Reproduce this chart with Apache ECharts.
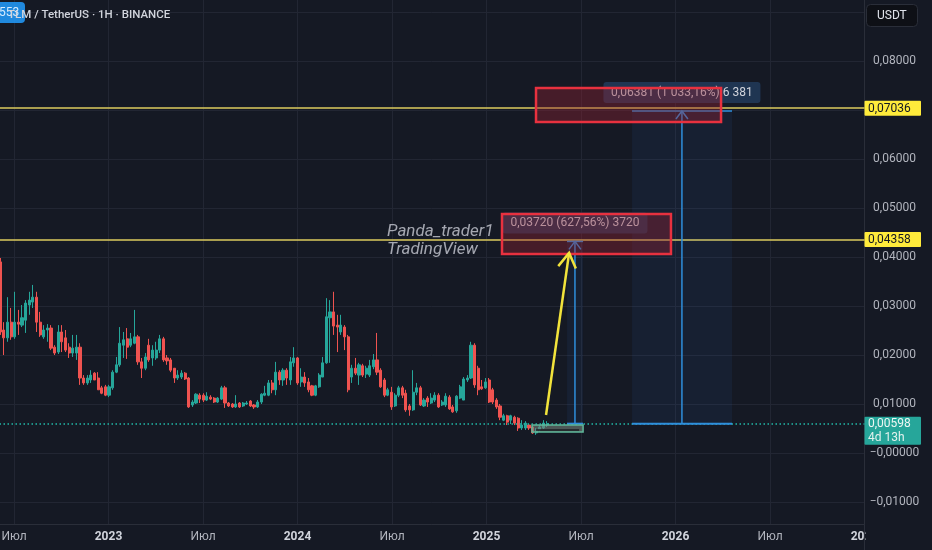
<!DOCTYPE html>
<html>
<head>
<meta charset="utf-8">
<script src="https://cdn.jsdelivr.net/npm/echarts@6/dist/echarts.min.js"></script>
<style>
html,body{margin:0;padding:0;background:#151924;}
#c{width:932px;height:550px;}
</style>
</head>
<body>
<div id="c"></div>
<script>
// ---------- DATA (weekly candles, TLM / USDT) ----------
const startDate = '2022-06-06';   // first weekly candle
const opens = [
.0390,.0251,.0235,.0267,.0237,.0267,.0261,.0271,.0302,.0308,
.0318,.0267,.0237,.0251,.0255,.0216,.0206,.0247,.0235,.0216,
.0204,.0204,.0216,.0153,.0143,.0149,.0163,.0153,.0133,.0135,
.0118,.0133,.0165,.0180,.0220,.0233,.0220,.0224,.0237,.0186,
.0173,.0220,.0194,.0194,.0210,.0233,.0194,.0190,.0173,.0153,
.0155,.0163,.0153,.0098,.0102,.0118,.0118,.0108,.0114,.0112,
.0104,.0110,.0133,.0102,.0100,.0094,.0102,.0096,.0100,.0106,
.0098,.0094,.0104,.0118,.0118,.0143,.0129,.0165,.0149,.0169,
.0149,.0184,.0194,.0145,.0155,.0145,.0137,.0118,.0135,.0155,
.0184,.0276,.0288,.0261,.0247,.0257,.0237,.0155,.0173,.0159,
.0178,.0161,.0159,.0176,.0190,.0169,.0149,.0118,.0124,.0096,
.0118,.0133,.0122,.0096,.0088,.0124,.0133,.0096,.0112,.0102,
.0108,.0118,.0098,.0098,.0114,.0094,.0086,.0112,.0108,.0149,
.0153,.0220,.0173,.0135,.0133,.0149,.0129,.0108,.0096,.0067,
.0076,.0067,.0073,.0071,.0051,.0051,.0057,.0053,.0041,.0047,
.0051,.0057];
const closes = [
.0247,.0235,.0267,.0237,.0267,.0263,.0276,.0306,.0312,.0318,
.0267,.0241,.0251,.0255,.0214,.0204,.0247,.0227,.0210,.0204,
.0214,.0216,.0153,.0143,.0153,.0159,.0149,.0129,.0122,.0118,
.0135,.0165,.0180,.0224,.0231,.0216,.0233,.0237,.0186,.0173,
.0196,.0190,.0210,.0210,.0233,.0190,.0188,.0169,.0153,.0159,
.0163,.0151,.0094,.0104,.0120,.0110,.0108,.0116,.0110,.0104,
.0112,.0133,.0102,.0096,.0094,.0100,.0094,.0102,.0102,.0096,
.0094,.0104,.0120,.0122,.0143,.0129,.0165,.0149,.0169,.0153,
.0186,.0194,.0143,.0155,.0143,.0129,.0118,.0137,.0159,.0184,
.0278,.0288,.0259,.0257,.0261,.0237,.0129,.0173,.0163,.0180,
.0159,.0173,.0178,.0190,.0165,.0135,.0118,.0129,.0094,.0118,
.0133,.0118,.0088,.0088,.0124,.0133,.0098,.0108,.0104,.0112,
.0118,.0094,.0104,.0116,.0090,.0084,.0116,.0135,.0151,.0153,
.0220,.0139,.0129,.0131,.0145,.0104,.0104,.0094,.0073,.0076,
.0063,.0076,.0061,.0051,.0057,.0061,.0051,.0041,.0047,.0053,
.0061,.00598];
const lows = [
.0241,.0200,.0227,.0231,.0233,.0241,.0257,.0245,.0282,.0296,
.0247,.0237,.0233,.0227,.0210,.0200,.0202,.0206,.0206,.0194,
.0196,.0190,.0139,.0139,.0139,.0143,.0149,.0129,.0120,.0116,
.0114,.0129,.0163,.0176,.0194,.0192,.0216,.0222,.0180,.0153,
.0169,.0186,.0178,.0190,.0204,.0186,.0180,.0165,.0143,.0149,
.0151,.0149,.0092,.0094,.0100,.0102,.0104,.0106,.0108,.0102,
.0102,.0108,.0092,.0094,.0092,.0092,.0092,.0094,.0098,.0094,
.0090,.0092,.0100,.0116,.0116,.0122,.0118,.0139,.0137,.0139,
.0139,.0176,.0139,.0135,.0135,.0124,.0116,.0116,.0133,.0155,
.0182,.0184,.0241,.0206,.0241,.0210,.0124,.0143,.0159,.0139,
.0155,.0153,.0155,.0171,.0159,.0133,.0114,.0116,.0088,.0094,
.0114,.0112,.0084,.0076,.0086,.0118,.0096,.0094,.0094,.0100,
.0104,.0092,.0096,.0094,.0088,.0082,.0082,.0110,.0108,.0145,
.0151,.0133,.0118,.0129,.0131,.0102,.0100,.0090,.0067,.0065,
.0057,.0059,.0057,.0045,.0047,.0047,.0047,.0039,.0037,.0043,
.0049,.0053];
const highs = [
.0398,.0267,.0318,.0296,.0329,.0292,.0302,.0312,.0329,.0343,
.0329,.0288,.0261,.0263,.0261,.0220,.0261,.0261,.0251,.0224,
.0241,.0241,.0224,.0159,.0159,.0169,.0165,.0165,.0137,.0139,
.0139,.0169,.0196,.0257,.0247,.0255,.0245,.0292,.0241,.0194,
.0204,.0233,.0220,.0227,.0241,.0237,.0200,.0194,.0173,.0169,
.0169,.0165,.0155,.0108,.0122,.0122,.0122,.0124,.0118,.0114,
.0114,.0137,.0137,.0104,.0102,.0118,.0104,.0104,.0106,.0108,
.0100,.0108,.0122,.0137,.0149,.0149,.0186,.0169,.0173,.0173,
.0196,.0216,.0196,.0173,.0165,.0153,.0139,.0139,.0163,.0196,
.0316,.0312,.0329,.0282,.0282,.0261,.0241,.0180,.0194,.0184,
.0182,.0178,.0190,.0202,.0245,.0173,.0153,.0133,.0135,.0122,
.0137,.0137,.0129,.0100,.0169,.0143,.0137,.0112,.0116,.0122,
.0124,.0122,.0108,.0122,.0118,.0098,.0118,.0139,.0155,.0159,
.0227,.0224,.0178,.0149,.0153,.0153,.0133,.0112,.0100,.0080,
.0078,.0078,.0076,.0073,.0067,.0065,.0059,.0055,.0051,.0057,
.0067,.0065];

// price levels & current price
const levelPrices = [0.07036, 0.04358];
const levelTexts = ['0,07036', '0,04358'];
const lastPrice = 0.00598;
const lastPriceText = '0,00598';
const countdownText = '4d 13h';

// measurement tools (x in fractional years, y in price)
const measureLeft  = [2025.426, 2025.770];
const measureRight = [2025.511, 2026.299];
const measureMid   = [2025.468, 2026.034];
const measureFrom  = [0.00598, 0.00598];
const measureTo    = [0.04318, 0.06979];
const measureTexts = ['0,03720 (627,56%) 3720', '0,06381 (1 033,16%) 6 381'];

// red highlight boxes [x0, x1], [yTop, yBottom]
const boxLeft   = [2025.082, 2025.262];
const boxRight  = [2025.976, 2026.241];
const boxTop    = [0.04878, 0.07449];
const boxBottom = [0.04061, 0.06755];

// yellow arrow (tail -> tip)
const arrowX = [2025.315, 2025.437];
const arrowY = [0.00776, 0.04082];

// green position box
const posBoxX = [2025.241, 2025.511];
const posBoxY = [0.00571, 0.00429];

// watermark
const watermarkLines = ['Panda_trader1', 'TradingView'];
const watermarkX = 2024.474;
const watermarkY = [0.0451, 0.04143];

const titleText = 'TLM / TetherUS · 1H · BINANCE';

// ---------- helpers ----------
function fracYear(t) {
  const d = new Date(t);
  const y = d.getUTCFullYear();
  const s = Date.UTC(y, 0, 1), e = Date.UTC(y + 1, 0, 1);
  return y + (t - s) / (e - s);
}
const t0 = Date.parse(startDate + 'T00:00:00Z');
const candleData = opens.map((o, i) => [fracYear(t0 + i * 7 * 86400000), o, closes[i], lows[i], highs[i]]);

function fmtPrice(v) {
  if (Math.abs(v) < 1e-9) return '\u22120,00000';
  const s = Math.abs(v).toFixed(5).replace('.', ',');
  return (v < 0 ? '\u2212' : '') + s;
}

const BG = '#151924';
const GRID = '#222633';
const AXIS = '#2a2e39';
const UP = '#26a69a', DOWN = '#ef5350';
const FONT = 'Roboto, "Noto Sans", sans-serif';

const chart = echarts.init(document.getElementById('c'), null, {renderer: 'canvas'});

const option = {
  backgroundColor: BG,
  animation: false,
  textStyle: {fontFamily: FONT},
  grid: [
    {left: -80.5, right: 67.5, top: -37, bottom: -1, containLabel: false, outerBoundsMode: 'none'},
    {left: -80.5, right: 67.5, top: 0, bottom: 26, containLabel: false, outerBoundsMode: 'none'}
  ],
  xAxis: [
    {type: 'value', gridIndex: 0, min: 2022, max: 2027, interval: 0.5, show: false},
    {type: 'value', gridIndex: 1, min: 2022, max: 2027, interval: 0.5,
     axisLine: {show: true, lineStyle: {color: AXIS, width: 1}},
     axisTick: {show: false},
     splitLine: {show: true, lineStyle: {color: GRID, width: 1}},
     axisLabel: {
       show: true, margin: 7, fontSize: 12, color: '#b2b5be', fontFamily: FONT,
       formatter: function (v) {
         if (Math.abs(v - Math.round(v)) < 1e-6) return '{y|' + Math.round(v) + '}';
         return 'Июл';
       },
       rich: {y: {fontWeight: 'bold', fontSize: 12, color: '#d1d4dc', fontFamily: FONT}}
     }}
  ],
  yAxis: [
    {type: 'value', gridIndex: 0, position: 'right', min: -0.02, max: 0.10, interval: 0.01,
     axisLine: {show: true, lineStyle: {color: AXIS, width: 1}},
     axisTick: {show: false},
     splitLine: {show: true, lineStyle: {color: GRID, width: 1}},
     axisLabel: {
       show: true, margin: 30, align: 'center', fontSize: 12, color: '#b2b5be', fontFamily: FONT,
       formatter: function (v) {
         if (v > 0.085 || v < -0.015) return '';
         return fmtPrice(v);
       }
     }},
    {type: 'value', gridIndex: 1, show: false, min: 0, max: 1, splitLine: {show: false}}
  ],
  series: [{
    type: 'candlestick',
    xAxisIndex: 0, yAxisIndex: 0,
    barWidth: 2.6,
    data: candleData,
    itemStyle: {color: UP, color0: DOWN, borderColor: UP, borderColor0: DOWN, borderWidth: 1},
    markLine: {
      silent: true, symbol: 'none', animation: false, precision: 6,
      label: {show: false},
      data: [
        {yAxis: levelPrices[0], lineStyle: {color: '#dccb5e', width: 1.5, type: 'solid', opacity: 1}},
        {yAxis: levelPrices[1], lineStyle: {color: '#dccb5e', width: 1.5, type: 'solid', opacity: 1}},
        {yAxis: lastPrice, lineStyle: {color: '#22b8a8', width: 1.5, type: [1.5, 2.5], opacity: 1}}
      ]
    }
  }]
};
chart.setOption(option);

const P = (x, y) => chart.convertToPixel({xAxisIndex: 0, yAxisIndex: 0}, [x, y]);
const g = [];
function rect(x0, y0, x1, y1, style, z, r) {
  g.push({type: 'rect', z: z || 20, silent: true,
    shape: {x: Math.min(x0, x1), y: Math.min(y0, y1), width: Math.abs(x1 - x0), height: Math.abs(y1 - y0), r: r || 0},
    style: style});
}
function line(pts, style, z) {
  g.push({type: 'polyline', z: z || 22, silent: true, shape: {points: pts}, style: Object.assign({fill: null}, style)});
}
function text(x, y, s, style, z) {
  g.push({type: 'text', z: z || 30, silent: true,
    style: Object.assign({x: x, y: y, text: s, font: '12px ' + FONT, fill: '#d1d4dc',
      align: 'left', verticalAlign: 'middle', textAlign: 'left', textVerticalAlign: 'middle'}, style)});
}

// measurement tools
for (let i = 0; i < 2; i++) {
  const a = P(measureLeft[i], measureTo[i]);
  const b = P(measureRight[i], measureFrom[i]);
  const m = P(measureMid[i], measureTo[i]);
  const mb = P(measureMid[i], measureFrom[i]);
  rect(a[0], a[1], b[0], b[1], {fill: 'rgba(45,110,220,0.08)'}, 12);
  line([[mb[0], mb[1]], [m[0], m[1]]], {stroke: '#2f8fdc', lineWidth: 1.5}, 22);
  line([[m[0] - 6, m[1] + 8], [m[0], m[1]], [m[0] + 6, m[1] + 8]], {stroke: '#2f8fdc', lineWidth: 1.5}, 22);
  line([[a[0], a[1]], [b[0], a[1]]], {stroke: '#2f8fdc', lineWidth: 1.5}, 22);
  line([[a[0], b[1]], [b[0], b[1]]], {stroke: '#2f8fdc', lineWidth: 2}, 22);
  // label
  const w = i === 0 ? 145 : 157;
  rect(m[0] - w / 2, m[1] - 29, m[0] + w / 2, m[1] - 8, {fill: '#1f3552'}, 24, 3);
  text(m[0], m[1] - 18.5, measureTexts[i], {align: 'center', textAlign: 'center', fill: '#d1d4dc', font: '12px ' + FONT}, 26);
}

// red highlight boxes (semi-transparent, above labels)
for (let i = 0; i < 2; i++) {
  const a = P(boxLeft[i], boxTop[i]);
  const b = P(boxRight[i], boxBottom[i]);
  rect(a[0], a[1], b[0], b[1], {fill: 'rgba(150,35,50,0.38)', stroke: '#e8313f', lineWidth: 2.5}, 28);
}

// yellow arrow
(function () {
  const t = P(arrowX[0], arrowY[0]);
  const h = P(arrowX[1], arrowY[1]);
  line([t, h], {stroke: '#f2e33b', lineWidth: 2.5}, 32);
  const dx = h[0] - t[0], dy = h[1] - t[1];
  const L = Math.sqrt(dx * dx + dy * dy);
  const ux = dx / L, uy = dy / L;
  const len = 17, ang = 0.55;
  const c = Math.cos(ang), s = Math.sin(ang);
  const l1 = [h[0] - len * (ux * c - uy * s), h[1] - len * (ux * s + uy * c)];
  const l2 = [h[0] - len * (ux * c + uy * s), h[1] - len * (-ux * s + uy * c)];
  line([l1, h, l2], {stroke: '#f2e33b', lineWidth: 2.5}, 32);
})();

// green position box
(function () {
  const a = P(posBoxX[0], posBoxY[0]);
  const b = P(posBoxX[1], posBoxY[1]);
  rect(a[0], a[1], b[0], b[1], {fill: 'rgba(115,130,122,0.6)', stroke: '#5fb89a', lineWidth: 1.5}, 26);
  const yl = a[1] + (b[1] - a[1]) * 0.7;
  line([[a[0] + 4, yl], [b[0] - 4, yl]], {stroke: '#1b1d22', lineWidth: 1.5}, 27);
})();

// watermark
for (let i = 0; i < 2; i++) {
  const p = P(watermarkX, watermarkY[i]);
  text(p[0], p[1], watermarkLines[i], {font: 'italic 17px ' + FONT, fill: 'rgba(190,193,202,0.85)'}, 29);
}

// level labels on the price axis
for (let i = 0; i < 2; i++) {
  const p = P(2027, levelPrices[i]);
  rect(864.5, p[1] - 7.5, 921, p[1] + 7.5, {fill: '#ffeb3b'}, 40, 1);
  text(868, p[1] + 0.5, levelTexts[i], {fill: '#131722', font: '12px ' + FONT}, 41);
}
// current price label
(function () {
  const p = P(2027, lastPrice);
  rect(864.5, p[1] - 7, 921, p[1] + 21, {fill: '#26a69a'}, 40, 1);
  text(868, p[1], lastPriceText, {fill: '#eef7f4', font: '12px ' + FONT}, 41);
  text(868, p[1] + 14, countdownText, {fill: '#e3f2ee', font: '12px ' + FONT}, 41);
})();

// cover under the price axis (bottom-right corner)
rect(865.5, 525, 932, 550, {fill: BG}, 50);

// badge + title (title drawn over the badge)
rect(-6, 2, 25, 23, {fill: 'rgba(33,150,243,0.9)'}, 60, 4);
text(-1, 13, '553', {font: '12px ' + FONT, fill: '#d6ecff'}, 61);
text(8, 15, titleText, {font: '500 11.5px ' + FONT, fill: '#d1d4dc'}, 62);

// currency box
rect(866.5, 4.5, 917.5, 26.5, {fill: '#0e1016', stroke: '#2a2e39', lineWidth: 1}, 60, 4);
text(877, 15.5, 'USDT', {font: '12px ' + FONT, fill: '#e0e3eb'}, 61);

chart.setOption({graphic: g});
</script>
</body>
</html>
